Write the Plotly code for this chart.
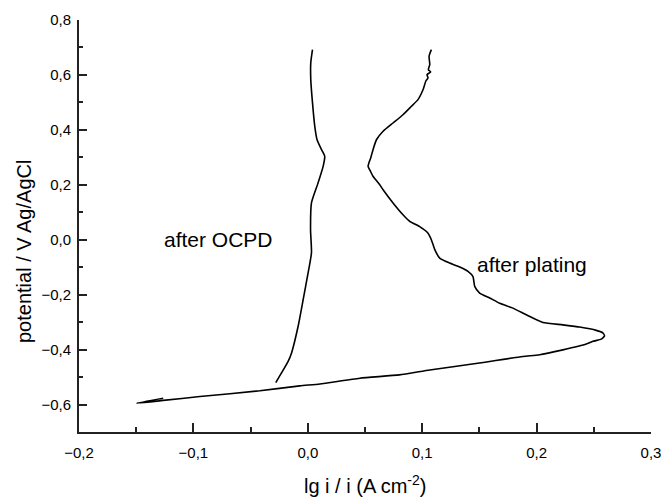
import plotly.graph_objects as go

# after OCPD curve
ocpd_x = [0.0041, 0.0026, 0.0026, 0.0041, 0.0061, 0.0081, 0.012, 0.0148, 0.0134, 0.009,
          0.0032, 0.0024, 0.0032, 0.0003, -0.0041, -0.0085, -0.0142, -0.0172, -0.023, -0.028]
ocpd_y = [0.692, 0.644, 0.583, 0.499, 0.413, 0.364, 0.328, 0.303, 0.267, 0.207,
          0.134, 0.036, -0.047, -0.120, -0.219, -0.316, -0.412, -0.443, -0.485, -0.520]

# after plating curve
plat_x = [0.108, 0.106, 0.1066, 0.1054, 0.1074, 0.1042, 0.1051, 0.1031, 0.1007, 0.0963,
          0.0906, 0.0832, 0.0745, 0.0658, 0.060, 0.057, 0.055, 0.0535, 0.0527, 0.0548,
          0.057, 0.0629, 0.0658, 0.0745, 0.0832, 0.0891, 0.0978, 0.1051, 0.108, 0.111,
          0.1153, 0.124, 0.1328, 0.140, 0.1444, 0.1459, 0.1502, 0.159, 0.1677, 0.1793,
          0.191, 0.2055, 0.223, 0.2376, 0.2521, 0.2579, 0.2594, 0.2565, 0.2492, 0.2434,
          0.223, 0.2026, 0.188, 0.150, 0.1066, 0.080, 0.0454, 0.0105, -0.007, -0.0419,
          -0.0943, -0.1264, -0.1496, -0.1264]
plat_y = [0.692, 0.668, 0.638, 0.619, 0.611, 0.601, 0.589, 0.577, 0.546, 0.510,
          0.486, 0.455, 0.425, 0.395, 0.364, 0.328, 0.298, 0.281, 0.267, 0.249,
          0.231, 0.200, 0.182, 0.134, 0.091, 0.067, 0.048, 0.024, 0.0, -0.036,
          -0.067, -0.085, -0.099, -0.115, -0.134, -0.170, -0.194, -0.212, -0.231, -0.249,
          -0.273, -0.301, -0.310, -0.318, -0.330, -0.339, -0.350, -0.362, -0.370, -0.380,
          -0.401, -0.419, -0.425, -0.449, -0.474, -0.492, -0.504, -0.525, -0.532, -0.550,
          -0.571, -0.585, -0.595, -0.577]

labels = ["after OCPD", "after plating"]
label_x = [-0.078, 0.196]
label_y = [0.0, -0.091]

FONT = "Liberation Sans, Arial, sans-serif"

fig = go.Figure()
fig.add_trace(go.Scatter(x=ocpd_x, y=ocpd_y, mode="lines",
                         line=dict(color="black", width=1.6, shape="spline", smoothing=0.6),
                         showlegend=False))
fig.add_trace(go.Scatter(x=plat_x, y=plat_y, mode="lines",
                         line=dict(color="black", width=1.6, shape="spline", smoothing=0.5),
                         showlegend=False))

for t, x, y in zip(labels, label_x, label_y):
    fig.add_annotation(x=x, y=y, text=t, showarrow=False,
                       font=dict(family=FONT, size=21, color="black"))

fig.add_annotation(xref="paper", yref="paper", x=-0.096, y=0.437, text="potential / V Ag/AgCl",
                   textangle=-90, showarrow=False, xanchor="center", yanchor="middle",
                   font=dict(family=FONT, size=20, color="black"))
fig.add_annotation(xref="paper", yref="paper", x=0.5, y=-0.128,
                   text="lg i / i (A cm<sup>-2</sup>)", showarrow=False,
                   xanchor="center", yanchor="middle",
                   font=dict(family=FONT, size=20, color="black"))

axis_common = dict(showgrid=False, zeroline=False, showline=True, linecolor="#222",
                   linewidth=2, ticks="inside", tickcolor="#222", tickwidth=1.5,
                   automargin=False,
                   tickformat=".1f", tickfont=dict(family=FONT, size=15, color="black"))

fig.update_xaxes(range=[-0.2, 0.3], tick0=0, dtick=0.1, ticklen=9,
                 minor=dict(ticks="inside", dtick=0.05, ticklen=5, tickcolor="#222", tickwidth=1.5),
                 ticklabelstandoff=6, **axis_common)
fig.update_yaxes(range=[-0.7, 0.8], tick0=0, dtick=0.2, ticklen=8,
                 minor=dict(ticks="inside", dtick=0.1, ticklen=4, tickcolor="#222", tickwidth=1.5),
                 ticklabelstandoff=3, **axis_common)

fig.update_layout(width=664, height=500, margin=dict(l=79, r=13, t=20, b=68),
                  plot_bgcolor="white", paper_bgcolor="white", separators=",.",
                  font=dict(family=FONT, color="black"), hovermode=False)

fig.write_html("out.html", config={"displayModeBar": False},
               post_script="document.body.style.margin='0';document.body.style.overflow='hidden';")
